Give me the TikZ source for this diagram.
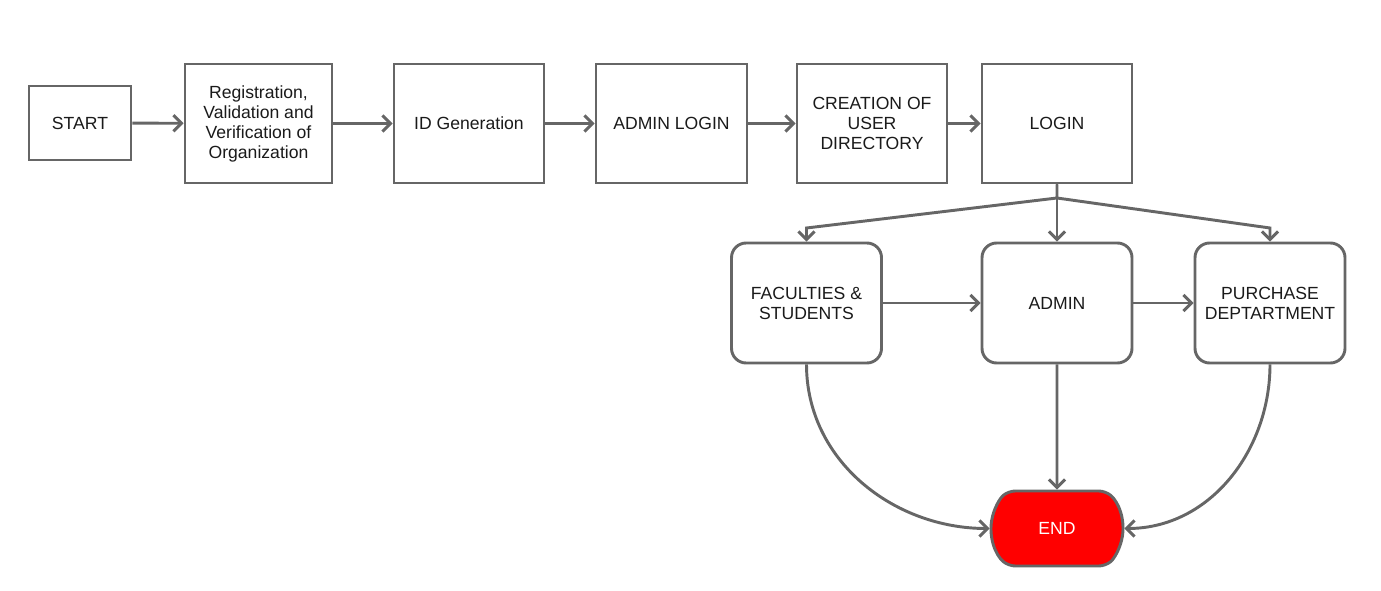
\documentclass[tikz,border=0pt]{standalone}
\usepackage{fontspec}
\setmainfont{Liberation Sans}
\usetikzlibrary{arrows.meta,shapes.misc}
\definecolor{linegray}{HTML}{666666}
\definecolor{textdark}{HTML}{1A1A1A}

\begin{document}
\begin{tikzpicture}[
    x=0.75pt, y=-0.75pt,
    box/.style={draw=linegray, line width=2.2pt, align=center, inner sep=0pt,
        text=textdark, font=\fontsize{13.2}{15}\selectfont,
        minimum width=112.5pt, minimum height=89.25pt},
    roundbox/.style={box, rounded corners=11pt, minimum height=90pt},
    endbox/.style={draw=linegray, line width=2.2pt, fill=red, text=white,
        rounded rectangle, rounded rectangle arc length=100, rounded corners=5pt,
        font=\fontsize{13.2}{15}\selectfont,
        minimum width=99pt, minimum height=56.25pt, inner sep=0pt},
    flow/.style={draw=linegray, line width=2.2pt,
        -{Straight Barb[length=6pt,width=12pt]}}
]
\useasboundingbox (0,0) rectangle (1381,591);
% top row
\node[box, minimum width=76.5pt, minimum height=55.5pt] (start) at (80,123) {START};
\node[box, minimum width=110.25pt] (registration) at (258.5,123.5) {Registration,\\Validation and\\Verification of\\Organization};
\node[box] (idgen) at (469,123.5) {ID Generation};
\node[box, minimum width=113.25pt] (adminlogin) at (671.5,123.5) {ADMIN LOGIN};
\node[box] (userdir) at (872,123.5) {CREATION OF\\USER\\DIRECTORY};
\node[box] (login) at (1057,123.5) {LOGIN};
% user roles
\node[roundbox] (faculties) at (806.5,303) {FACULTIES \&\\STUDENTS};
\node[roundbox] (admin) at (1057,303) {ADMIN};
\node[roundbox] (purchase) at (1270,303) {PURCHASE\\DEPTARTMENT};
\node[endbox] (end) at (1057,528.5) {END};
% bends below login
\coordinate (split) at (1057,198);
\coordinate (facknee) at (806.5,228);
\coordinate (purknee) at (1270,228);

\draw[flow] (start) -- (registration);
\draw[flow] (registration) -- (idgen);
\draw[flow] (idgen) -- (adminlogin);
\draw[flow] (adminlogin) -- (userdir);
\draw[flow] (userdir) -- (login);
\draw[flow] (login) -- (admin);
\draw[flow] (login.south) -- (split) -- (facknee) -- (faculties.north);
\draw[flow] (split) -- (purknee) -- (purchase.north);
\draw[flow] (faculties) -- (admin);
\draw[flow] (admin) -- (purchase);
\draw[flow] (admin) -- (end);
\draw[flow] (faculties.south) to[out=-90, in=180] (end.west);
\draw[flow] (purchase.south) to[out=-90, in=0] (end.east);
\end{tikzpicture}
\end{document}
